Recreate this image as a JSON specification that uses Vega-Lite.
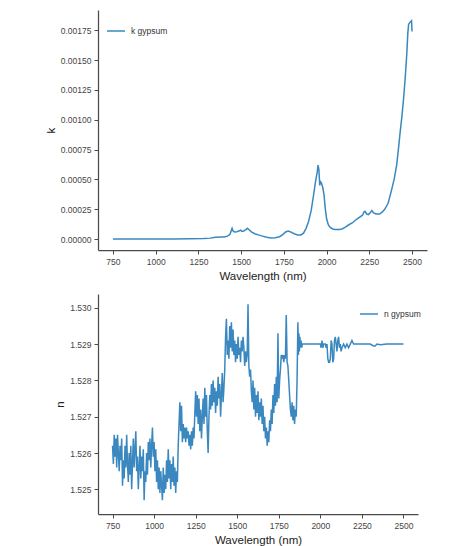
{
  "$schema": "https://vega.github.io/schema/vega-lite/v6.json",
  "padding": {"left": 45, "top": 10, "right": 5, "bottom": 2},
  "autosize": {"type": "pad"},
  "spacing": 12,
  "config": {
    "view": {"stroke": null},
    "font": "Liberation Sans",
    "axis": {
      "grid": false,
      "domainColor": "#4a4a4a",
      "domainWidth": 1.25,
      "tickColor": "#4a4a4a",
      "tickSize": 4,
      "tickWidth": 1,
      "labelFontSize": 8.5,
      "labelColor": "#444444",
      "labelPadding": 3,
      "titleFontSize": 11.5,
      "titleFontWeight": "normal",
      "titleColor": "#222222"
    },
    "legend": {
      "title": null,
      "labelFontSize": 8.5,
      "labelColor": "#333333",
      "symbolType": "stroke",
      "symbolSize": 324,
      "symbolStrokeWidth": 1.5,
      "labelOffset": 5,
      "padding": 0
    }
  },
  "datasets": {
    "k": [
      {"w": 750, "k": 0}, {"w": 800, "k": 0}, {"w": 900, "k": 0}, {"w": 1000, "k": 0},
      {"w": 1100, "k": 0}, {"w": 1200, "k": 0.000002}, {"w": 1280, "k": 0.000004},
      {"w": 1320, "k": 0.000008}, {"w": 1350, "k": 0.000015}, {"w": 1380, "k": 0.000018},
      {"w": 1400, "k": 0.000017}, {"w": 1420, "k": 0.000025}, {"w": 1435, "k": 0.00004},
      {"w": 1442, "k": 0.00007}, {"w": 1447, "k": 0.00009}, {"w": 1452, "k": 0.00007},
      {"w": 1460, "k": 0.00006}, {"w": 1475, "k": 0.000062}, {"w": 1490, "k": 0.00007},
      {"w": 1497, "k": 0.000075}, {"w": 1505, "k": 0.000065}, {"w": 1515, "k": 0.000068},
      {"w": 1528, "k": 0.00008}, {"w": 1537, "k": 0.00009}, {"w": 1545, "k": 0.00008},
      {"w": 1560, "k": 0.00006}, {"w": 1580, "k": 0.000045}, {"w": 1600, "k": 0.000035},
      {"w": 1625, "k": 0.000025}, {"w": 1650, "k": 0.000015}, {"w": 1675, "k": 0.00001},
      {"w": 1700, "k": 0.000012}, {"w": 1725, "k": 0.00002}, {"w": 1745, "k": 0.00004},
      {"w": 1760, "k": 0.00006}, {"w": 1775, "k": 0.000068}, {"w": 1790, "k": 0.00006},
      {"w": 1810, "k": 0.000045}, {"w": 1830, "k": 0.000035}, {"w": 1850, "k": 0.000035},
      {"w": 1865, "k": 0.00005}, {"w": 1880, "k": 0.00009}, {"w": 1895, "k": 0.00015},
      {"w": 1910, "k": 0.00024}, {"w": 1925, "k": 0.00038}, {"w": 1935, "k": 0.00048},
      {"w": 1945, "k": 0.00056}, {"w": 1950, "k": 0.00062}, {"w": 1955, "k": 0.00058},
      {"w": 1960, "k": 0.00045}, {"w": 1965, "k": 0.00048}, {"w": 1970, "k": 0.00047},
      {"w": 1978, "k": 0.00043}, {"w": 1985, "k": 0.00037}, {"w": 1992, "k": 0.00026},
      {"w": 2000, "k": 0.00017}, {"w": 2010, "k": 0.00012}, {"w": 2020, "k": 0.0001},
      {"w": 2035, "k": 0.000085}, {"w": 2050, "k": 0.00008}, {"w": 2075, "k": 0.00008},
      {"w": 2090, "k": 0.000085}, {"w": 2110, "k": 0.0001}, {"w": 2130, "k": 0.00012},
      {"w": 2150, "k": 0.000135}, {"w": 2170, "k": 0.00016}, {"w": 2190, "k": 0.00018},
      {"w": 2210, "k": 0.0002}, {"w": 2220, "k": 0.00023}, {"w": 2225, "k": 0.000232},
      {"w": 2235, "k": 0.00021}, {"w": 2245, "k": 0.000205}, {"w": 2255, "k": 0.00022},
      {"w": 2265, "k": 0.00024}, {"w": 2275, "k": 0.00022}, {"w": 2290, "k": 0.00021},
      {"w": 2310, "k": 0.00021}, {"w": 2325, "k": 0.000225}, {"w": 2340, "k": 0.00025},
      {"w": 2360, "k": 0.0003}, {"w": 2380, "k": 0.00041}, {"w": 2395, "k": 0.0005},
      {"w": 2410, "k": 0.00062}, {"w": 2420, "k": 0.00075}, {"w": 2430, "k": 0.00089},
      {"w": 2440, "k": 0.00102}, {"w": 2450, "k": 0.00117}, {"w": 2460, "k": 0.00135},
      {"w": 2470, "k": 0.00157}, {"w": 2475, "k": 0.00172}, {"w": 2480, "k": 0.0018},
      {"w": 2490, "k": 0.00182}, {"w": 2497, "k": 0.00183}, {"w": 2500, "k": 0.00174}
    ],
    "n": [
      {"w": 750, "n": 1.5262}, {"w": 755, "n": 1.5257}, {"w": 760, "n": 1.5265}, {"w": 765, "n": 1.5259},
      {"w": 770, "n": 1.5264}, {"w": 775, "n": 1.5256}, {"w": 780, "n": 1.5265}, {"w": 785, "n": 1.526},
      {"w": 790, "n": 1.5255}, {"w": 795, "n": 1.5262}, {"w": 800, "n": 1.5258}, {"w": 805, "n": 1.5264},
      {"w": 810, "n": 1.5251}, {"w": 815, "n": 1.5258}, {"w": 820, "n": 1.5253}, {"w": 825, "n": 1.5262},
      {"w": 830, "n": 1.5256}, {"w": 835, "n": 1.5265}, {"w": 840, "n": 1.5257}, {"w": 845, "n": 1.5252},
      {"w": 850, "n": 1.526}, {"w": 855, "n": 1.5254}, {"w": 860, "n": 1.5262}, {"w": 865, "n": 1.525},
      {"w": 870, "n": 1.5257}, {"w": 875, "n": 1.5264}, {"w": 880, "n": 1.5256}, {"w": 885, "n": 1.5261},
      {"w": 890, "n": 1.5266}, {"w": 895, "n": 1.5255}, {"w": 900, "n": 1.5259}, {"w": 905, "n": 1.525},
      {"w": 910, "n": 1.5256}, {"w": 915, "n": 1.5262}, {"w": 920, "n": 1.5253}, {"w": 925, "n": 1.5259},
      {"w": 930, "n": 1.5255}, {"w": 935, "n": 1.5261}, {"w": 940, "n": 1.5247}, {"w": 945, "n": 1.5255},
      {"w": 950, "n": 1.5252}, {"w": 955, "n": 1.526}, {"w": 960, "n": 1.5254}, {"w": 965, "n": 1.5263},
      {"w": 970, "n": 1.5258}, {"w": 975, "n": 1.5264}, {"w": 980, "n": 1.5256}, {"w": 985, "n": 1.5262},
      {"w": 990, "n": 1.5267}, {"w": 995, "n": 1.5259}, {"w": 1000, "n": 1.5263}, {"w": 1005, "n": 1.5255},
      {"w": 1010, "n": 1.5261}, {"w": 1015, "n": 1.5252}, {"w": 1020, "n": 1.5258}, {"w": 1025, "n": 1.525},
      {"w": 1030, "n": 1.5256}, {"w": 1035, "n": 1.5249}, {"w": 1040, "n": 1.5255}, {"w": 1045, "n": 1.5251},
      {"w": 1050, "n": 1.5247}, {"w": 1055, "n": 1.5256}, {"w": 1060, "n": 1.5249}, {"w": 1065, "n": 1.5254},
      {"w": 1070, "n": 1.525}, {"w": 1075, "n": 1.5258}, {"w": 1080, "n": 1.5252}, {"w": 1085, "n": 1.5261},
      {"w": 1090, "n": 1.5253}, {"w": 1095, "n": 1.5258}, {"w": 1100, "n": 1.525}, {"w": 1105, "n": 1.5257},
      {"w": 1110, "n": 1.5252}, {"w": 1115, "n": 1.5259}, {"w": 1120, "n": 1.5251}, {"w": 1125, "n": 1.5256},
      {"w": 1130, "n": 1.5249}, {"w": 1135, "n": 1.5255}, {"w": 1140, "n": 1.5252}, {"w": 1145, "n": 1.5262},
      {"w": 1150, "n": 1.5268}, {"w": 1155, "n": 1.5274}, {"w": 1160, "n": 1.5266}, {"w": 1165, "n": 1.5273},
      {"w": 1170, "n": 1.5263}, {"w": 1175, "n": 1.5268}, {"w": 1180, "n": 1.5264}, {"w": 1185, "n": 1.5267},
      {"w": 1190, "n": 1.5263}, {"w": 1195, "n": 1.5267}, {"w": 1200, "n": 1.5264}, {"w": 1205, "n": 1.5266},
      {"w": 1210, "n": 1.5262}, {"w": 1215, "n": 1.5265}, {"w": 1220, "n": 1.5261}, {"w": 1225, "n": 1.5266},
      {"w": 1230, "n": 1.5262}, {"w": 1235, "n": 1.5267}, {"w": 1240, "n": 1.5264}, {"w": 1245, "n": 1.5271},
      {"w": 1250, "n": 1.5277}, {"w": 1255, "n": 1.527}, {"w": 1260, "n": 1.5276}, {"w": 1265, "n": 1.5268},
      {"w": 1270, "n": 1.5275}, {"w": 1275, "n": 1.5266}, {"w": 1280, "n": 1.5272}, {"w": 1285, "n": 1.5264},
      {"w": 1290, "n": 1.527}, {"w": 1295, "n": 1.5275}, {"w": 1300, "n": 1.5268}, {"w": 1305, "n": 1.5278},
      {"w": 1310, "n": 1.527}, {"w": 1315, "n": 1.5276}, {"w": 1320, "n": 1.5266}, {"w": 1325, "n": 1.526},
      {"w": 1330, "n": 1.527}, {"w": 1335, "n": 1.5276}, {"w": 1340, "n": 1.5272}, {"w": 1345, "n": 1.5279},
      {"w": 1350, "n": 1.5273}, {"w": 1355, "n": 1.528}, {"w": 1360, "n": 1.5274}, {"w": 1365, "n": 1.5278},
      {"w": 1370, "n": 1.5271}, {"w": 1375, "n": 1.5277}, {"w": 1380, "n": 1.5273}, {"w": 1385, "n": 1.5281},
      {"w": 1390, "n": 1.5275}, {"w": 1395, "n": 1.5279}, {"w": 1400, "n": 1.527}, {"w": 1405, "n": 1.5276},
      {"w": 1410, "n": 1.5282}, {"w": 1415, "n": 1.5274}, {"w": 1420, "n": 1.5278}, {"w": 1425, "n": 1.5283},
      {"w": 1430, "n": 1.5292}, {"w": 1435, "n": 1.5297}, {"w": 1440, "n": 1.5287}, {"w": 1445, "n": 1.5291},
      {"w": 1450, "n": 1.5286}, {"w": 1455, "n": 1.5295}, {"w": 1460, "n": 1.5289}, {"w": 1465, "n": 1.5296},
      {"w": 1470, "n": 1.5288}, {"w": 1475, "n": 1.5294}, {"w": 1480, "n": 1.5287}, {"w": 1485, "n": 1.5291},
      {"w": 1490, "n": 1.5285}, {"w": 1495, "n": 1.529}, {"w": 1500, "n": 1.5286}, {"w": 1505, "n": 1.5292},
      {"w": 1510, "n": 1.5287}, {"w": 1515, "n": 1.5289}, {"w": 1520, "n": 1.5285}, {"w": 1525, "n": 1.5291},
      {"w": 1530, "n": 1.5288}, {"w": 1535, "n": 1.5292}, {"w": 1540, "n": 1.5289}, {"w": 1545, "n": 1.5284},
      {"w": 1550, "n": 1.5288}, {"w": 1555, "n": 1.5285}, {"w": 1560, "n": 1.5287}, {"w": 1565, "n": 1.5301},
      {"w": 1570, "n": 1.5284}, {"w": 1575, "n": 1.5281}, {"w": 1580, "n": 1.5283}, {"w": 1585, "n": 1.5277},
      {"w": 1590, "n": 1.5274}, {"w": 1595, "n": 1.528}, {"w": 1600, "n": 1.5272}, {"w": 1605, "n": 1.5278},
      {"w": 1610, "n": 1.527}, {"w": 1615, "n": 1.5276}, {"w": 1620, "n": 1.5271}, {"w": 1625, "n": 1.5277},
      {"w": 1630, "n": 1.5269}, {"w": 1635, "n": 1.5274}, {"w": 1640, "n": 1.527}, {"w": 1645, "n": 1.5275},
      {"w": 1650, "n": 1.5268}, {"w": 1655, "n": 1.5273}, {"w": 1660, "n": 1.5266}, {"w": 1665, "n": 1.527},
      {"w": 1670, "n": 1.5264}, {"w": 1675, "n": 1.5267}, {"w": 1680, "n": 1.5262}, {"w": 1685, "n": 1.5266},
      {"w": 1690, "n": 1.5263}, {"w": 1695, "n": 1.5269}, {"w": 1700, "n": 1.5266}, {"w": 1705, "n": 1.5272},
      {"w": 1710, "n": 1.5268}, {"w": 1715, "n": 1.5276}, {"w": 1720, "n": 1.5271}, {"w": 1725, "n": 1.5279},
      {"w": 1730, "n": 1.5273}, {"w": 1735, "n": 1.5281}, {"w": 1740, "n": 1.5274}, {"w": 1745, "n": 1.5293},
      {"w": 1750, "n": 1.5275}, {"w": 1755, "n": 1.528}, {"w": 1760, "n": 1.5283}, {"w": 1765, "n": 1.5287},
      {"w": 1770, "n": 1.5286}, {"w": 1775, "n": 1.5287}, {"w": 1780, "n": 1.5285}, {"w": 1785, "n": 1.5287},
      {"w": 1790, "n": 1.5286}, {"w": 1795, "n": 1.5298}, {"w": 1800, "n": 1.5285}, {"w": 1805, "n": 1.5284},
      {"w": 1810, "n": 1.528}, {"w": 1815, "n": 1.5276}, {"w": 1820, "n": 1.5272}, {"w": 1825, "n": 1.527},
      {"w": 1830, "n": 1.5274}, {"w": 1835, "n": 1.5269}, {"w": 1840, "n": 1.5273}, {"w": 1845, "n": 1.5268},
      {"w": 1850, "n": 1.5272}, {"w": 1855, "n": 1.527}, {"w": 1860, "n": 1.528}, {"w": 1865, "n": 1.5296},
      {"w": 1868, "n": 1.5287}, {"w": 1871, "n": 1.5293}, {"w": 1874, "n": 1.5288}, {"w": 1877, "n": 1.5292},
      {"w": 1880, "n": 1.5289}, {"w": 1884, "n": 1.5291}, {"w": 1888, "n": 1.5289}, {"w": 1892, "n": 1.529},
      {"w": 1900, "n": 1.529}, {"w": 1950, "n": 1.529}, {"w": 2000, "n": 1.529}, {"w": 2005, "n": 1.5289},
      {"w": 2010, "n": 1.5291}, {"w": 2015, "n": 1.5289}, {"w": 2020, "n": 1.529}, {"w": 2030, "n": 1.529},
      {"w": 2035, "n": 1.5289}, {"w": 2040, "n": 1.529}, {"w": 2045, "n": 1.5286}, {"w": 2050, "n": 1.5285},
      {"w": 2055, "n": 1.5285}, {"w": 2060, "n": 1.5286}, {"w": 2065, "n": 1.5291}, {"w": 2070, "n": 1.529},
      {"w": 2075, "n": 1.5285}, {"w": 2080, "n": 1.5286}, {"w": 2085, "n": 1.5291}, {"w": 2090, "n": 1.5292},
      {"w": 2095, "n": 1.529}, {"w": 2100, "n": 1.5288}, {"w": 2105, "n": 1.5291}, {"w": 2110, "n": 1.5292},
      {"w": 2115, "n": 1.5289}, {"w": 2120, "n": 1.529}, {"w": 2125, "n": 1.5288}, {"w": 2130, "n": 1.5289},
      {"w": 2140, "n": 1.529}, {"w": 2150, "n": 1.5289}, {"w": 2160, "n": 1.529}, {"w": 2170, "n": 1.5289},
      {"w": 2180, "n": 1.529}, {"w": 2190, "n": 1.5291}, {"w": 2200, "n": 1.529}, {"w": 2250, "n": 1.529},
      {"w": 2300, "n": 1.529}, {"w": 2320, "n": 1.52895}, {"w": 2330, "n": 1.52895}, {"w": 2340, "n": 1.529},
      {"w": 2360, "n": 1.52898}, {"w": 2400, "n": 1.529}, {"w": 2500, "n": 1.529}
    ]
  },
  "vconcat": [
    {
      "width": 329,
      "height": 240,
      "data": {"name": "k"},
      "mark": {"type": "line", "strokeWidth": 1.5},
      "encoding": {
        "x": {
          "field": "w", "type": "quantitative", "title": "Wavelength (nm)",
          "scale": {"domain": [662.5, 2587.5], "nice": false, "zero": false},
          "axis": {"values": [750, 1000, 1250, 1500, 1750, 2000, 2250, 2500], "format": "d", "titlePadding": 5}
        },
        "y": {
          "field": "k", "type": "quantitative", "title": "k",
          "scale": {"domain": [-0.0000915, 0.00192], "nice": false, "zero": false},
          "axis": {"values": [0, 0.00025, 0.0005, 0.00075, 0.001, 0.00125, 0.0015, 0.00175], "format": ".5f", "titlePadding": 4}
        },
        "color": {
          "datum": "k gypsum", "type": "nominal",
          "scale": {"domain": ["k gypsum"], "range": ["#3a88bf"]},
          "legend": {"orient": "none", "legendX": 8, "legendY": 11}
        }
      }
    },
    {
      "width": 320,
      "height": 220,
      "data": {"name": "n"},
      "mark": {"type": "line", "strokeWidth": 1.5},
      "encoding": {
        "x": {
          "field": "w", "type": "quantitative", "title": "Wavelength (nm)",
          "scale": {"domain": [662.5, 2587.5], "nice": false, "zero": false},
          "axis": {"values": [750, 1000, 1250, 1500, 1750, 2000, 2250, 2500], "format": "d", "titlePadding": 5}
        },
        "y": {
          "field": "n", "type": "quantitative", "title": "n",
          "scale": {"domain": [1.52432, 1.53038], "nice": false, "zero": false},
          "axis": {"values": [1.525, 1.526, 1.527, 1.528, 1.529, 1.53], "format": ".3f", "titlePadding": 4}
        },
        "color": {
          "datum": "n gypsum", "type": "nominal",
          "scale": {"domain": ["n gypsum"], "range": ["#3a88bf"]},
          "legend": {"orient": "none", "legendX": 261, "legendY": 10}
        }
      }
    }
  ],
  "resolve": {"scale": {"color": "independent"}, "legend": {"color": "independent"}}
}
